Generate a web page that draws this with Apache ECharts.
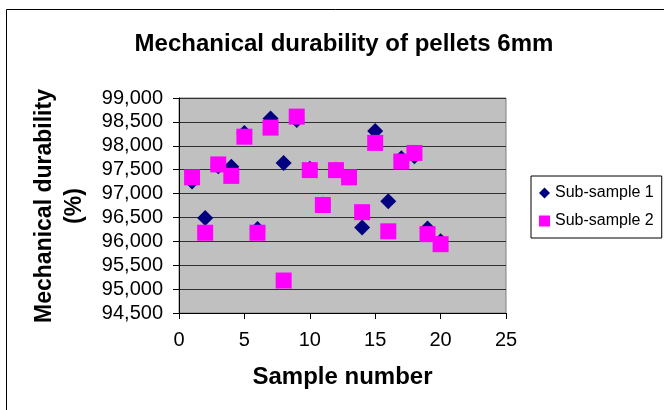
<!DOCTYPE html>
<html>
<head>
<meta charset="utf-8">
<script src="https://cdn.jsdelivr.net/npm/echarts@6/dist/echarts.min.js"></script>
<style>
  html, body { margin: 0; padding: 0; background: #fff; }
  #container { width: 664px; height: 410px; }
</style>
</head>
<body>
<div id="container"></div>
<script>
// sample numbers 1..20
var sampleNo = [1, 2, 3, 4, 5, 6, 7, 8, 9, 10, 11, 12, 13, 14, 15, 16, 17, 18, 19, 20];
// mechanical durability, %
var subSample1 = [97.25, 96.49, 97.57, 97.56, 98.27, 96.26, 98.57, 97.64, 98.54, 97.52,
                  96.77, 97.50, 97.34, 96.29, 98.31, 96.84, 97.74, 97.78, 96.27, 96.00];
var subSample2 = [97.34, 96.18, 97.61, 97.37, 98.19, 96.18, 98.38, 95.18, 98.61, 97.49,
                  96.76, 97.49, 97.34, 96.61, 98.06, 96.21, 97.67, 97.85, 96.15, 95.94];
var seriesNames = ['Sub-sample 1', 'Sub-sample 2'];

function pairs(xs, ys) {
    var out = [];
    for (var i = 0; i < xs.length; i++) {
        out.push([xs[i], ys[i]]);
    }
    return out;
}

var dom = document.getElementById('container');
var myChart = echarts.init(dom, null, {renderer: 'canvas'});

var font = 'Liberation Sans, Arial, sans-serif';

var option = {
    animation: false,
    backgroundColor: '#fff',
    graphic: [
        {
            type: 'rect',
            shape: {x: 6.5, y: 9.5, width: 700, height: 420},
            style: {fill: 'none', stroke: '#000', lineWidth: 1}
        },
        {
            // y axis name, two lines, reads bottom to top
            type: 'text',
            x: 30,
            y: 206,
            rotation: Math.PI / 2,
            style: {
                text: 'Mechanical durability\n(%)',
                fontFamily: font,
                fontSize: 23,
                fontWeight: 'bold',
                fill: '#000',
                align: 'center',
                verticalAlign: 'top',
                lineHeight: 30
            }
        }
    ],
    title: {
        text: 'Mechanical durability of pellets 6mm',
        left: 339,
        top: 27,
        textAlign: 'center',
        textStyle: {
            fontFamily: font,
            fontSize: 24,
            fontWeight: 'bold',
            color: '#000'
        }
    },
    legend: {
        data: [
            {name: seriesNames[0], icon: 'diamond'},
            {name: seriesNames[1], icon: 'rect'}
        ],
        orient: 'vertical',
        left: 531,
        top: 176,
        itemWidth: 11,
        itemHeight: 11,
        itemGap: 12,
        padding: [9, 8, 9, 8],
        borderColor: '#000',
        borderWidth: 1,
        textStyle: {fontFamily: font, fontSize: 16, color: '#000'}
    },
    grid: {
        left: 179,
        top: 98,
        width: 327,
        height: 215,
        show: true,
        backgroundColor: '#C0C0C0',
        borderColor: '#808080',
        borderWidth: 1,
        containLabel: false
    },
    xAxis: {
        type: 'value',
        min: 0,
        max: 25,
        interval: 5,
        name: 'Sample number',
        nameLocation: 'middle',
        nameGap: 52,
        nameTextStyle: {fontFamily: font, fontSize: 24, fontWeight: 'bold', color: '#000'},
        axisLine: {show: true, onZero: false, lineStyle: {color: '#000', width: 1}},
        axisTick: {show: true, length: 6, lineStyle: {color: '#000'}},
        axisLabel: {fontFamily: font, fontSize: 20, color: '#000', margin: 17},
        splitLine: {show: false}
    },
    yAxis: {
        type: 'value',
        min: 94.5,
        max: 99,
        interval: 0.5,
        axisLine: {show: true, lineStyle: {color: '#000', width: 1}},
        axisTick: {show: true, length: 6, lineStyle: {color: '#000'}},
        axisLabel: {
            fontFamily: font,
            fontSize: 20,
            color: '#000',
            margin: 16,
            formatter: function (v) {
                return v.toFixed(3).replace('.', ',');
            }
        },
        splitLine: {show: true, lineStyle: {color: '#303030', width: 1}}
    },
    series: [
        {
            name: seriesNames[0],
            type: 'scatter',
            symbol: 'diamond',
            symbolSize: [16, 16],
            itemStyle: {color: '#000080', opacity: 1},
            data: pairs(sampleNo, subSample1)
        },
        {
            name: seriesNames[1],
            type: 'scatter',
            symbol: 'rect',
            symbolSize: [16, 16],
            itemStyle: {color: '#FF00FF', opacity: 1},
            data: pairs(sampleNo, subSample2)
        }
    ]
};

if (option && typeof option === 'object') {
    myChart.setOption(option, true);
}
</script>
</body>
</html>
